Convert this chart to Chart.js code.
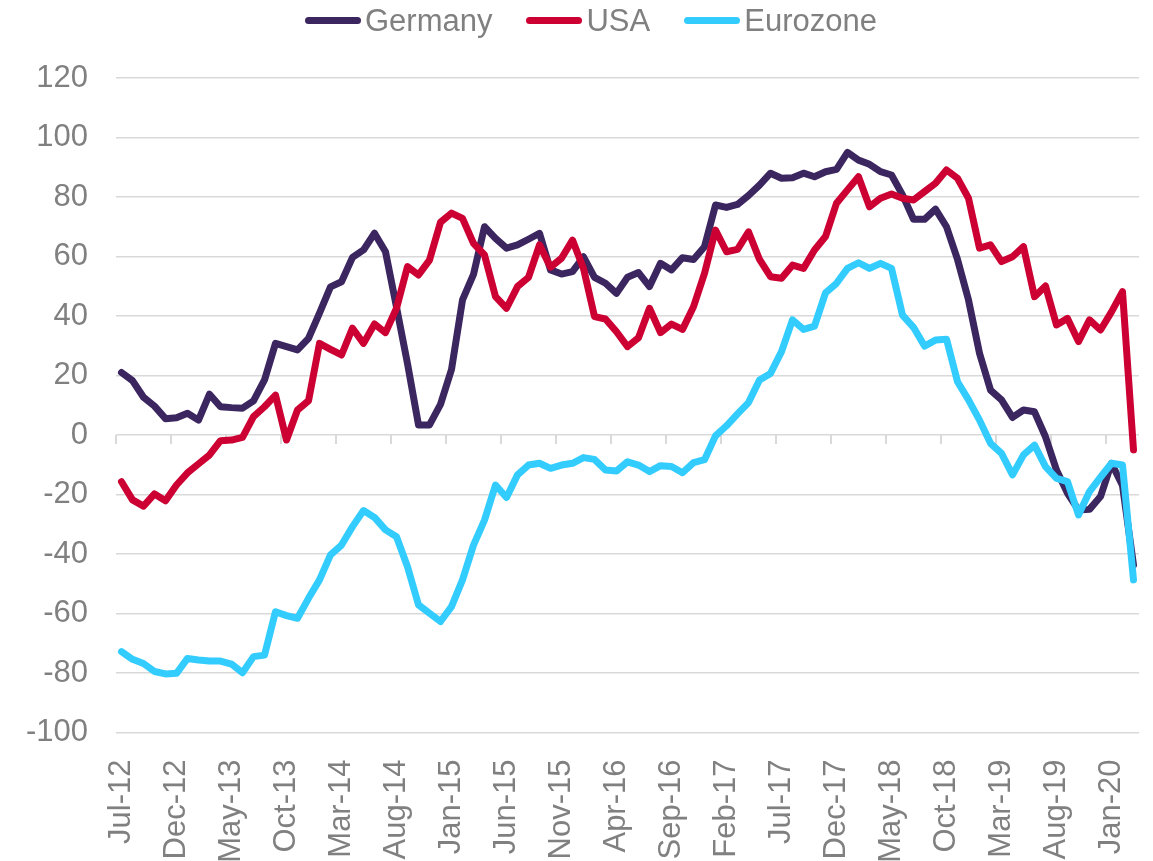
<!DOCTYPE html>
<html>
<head>
<meta charset="utf-8">
<script src="https://cdn.jsdelivr.net/npm/chart.js"></script>
<style>
  body { margin: 0; background: #ffffff; }
  #wrap { position: relative; width: 1153px; height: 861px; }
  #legenda {
    position: absolute; top: 5px; left: 305px; display: flex;
    font: 31px "Liberation Sans", Arial, sans-serif; color: #808080; line-height: 31px;
  }
  .item { display: flex; align-items: center; margin-right: 34px; }
  .swatch { width: 56px; height: 7px; border-radius: 4px; margin-right: 4px; }
</style>
</head>
<body>
<div id="wrap">
  <canvas id="grafico" width="1153" height="861"></canvas>
  <div id="legenda"></div>
</div>
<script>
// Rótulos mensais do eixo X (Jul-12 a Mar-20)
const rotulos = [
  "Jul-12", "Aug-12", "Sep-12", "Oct-12", "Nov-12", "Dec-12",
  "Jan-13", "Feb-13", "Mar-13", "Apr-13", "May-13", "Jun-13", "Jul-13", "Aug-13", "Sep-13", "Oct-13", "Nov-13", "Dec-13",
  "Jan-14", "Feb-14", "Mar-14", "Apr-14", "May-14", "Jun-14", "Jul-14", "Aug-14", "Sep-14", "Oct-14", "Nov-14", "Dec-14",
  "Jan-15", "Feb-15", "Mar-15", "Apr-15", "May-15", "Jun-15", "Jul-15", "Aug-15", "Sep-15", "Oct-15", "Nov-15", "Dec-15",
  "Jan-16", "Feb-16", "Mar-16", "Apr-16", "May-16", "Jun-16", "Jul-16", "Aug-16", "Sep-16", "Oct-16", "Nov-16", "Dec-16",
  "Jan-17", "Feb-17", "Mar-17", "Apr-17", "May-17", "Jun-17", "Jul-17", "Aug-17", "Sep-17", "Oct-17", "Nov-17", "Dec-17",
  "Jan-18", "Feb-18", "Mar-18", "Apr-18", "May-18", "Jun-18", "Jul-18", "Aug-18", "Sep-18", "Oct-18", "Nov-18", "Dec-18",
  "Jan-19", "Feb-19", "Mar-19", "Apr-19", "May-19", "Jun-19", "Jul-19", "Aug-19", "Sep-19", "Oct-19", "Nov-19", "Dec-19",
  "Jan-20", "Feb-20", "Mar-20"
];

// Séries
const germany = [
  21, 18.3, 12.7, 9.7, 5.5, 5.8, 7.3, 5.0, 13.7, 9.5, 9.2, 9.0, 11.5, 18.5, 30.8, 29.7, 28.6, 32.5,
  41, 49.8, 51.5, 59.7, 62.2, 67.8, 61.6, 43, 24, 3.4, 3.4, 10.3, 22, 45.4, 54, 70, 66.1, 62.8,
  63.9, 65.8, 67.8, 55.5, 54.1, 54.9, 59.9, 53, 51, 47.6, 53, 54.6, 49.9, 57.7, 55.5, 59.6, 59, 63.3,
  77.3, 76.5, 77.5, 80.5, 84, 88, 86.3, 86.5, 88, 86.8, 88.5, 89.3, 95, 92.4, 91, 88.5, 87.4, 80.7,
  72.5, 72.5, 75.9, 70, 59, 45.4, 27.5, 15.1, 11.8, 5.9, 8.4, 7.8, -0.6, -11.8, -19.6, -25.2, -25, -20.7,
  -9.5, -17, -43.7
];
const usa = [
  -15.7, -21.8, -23.9, -19.8, -22.1, -16.8, -12.7, -9.7, -6.7, -1.9, -1.7, -0.8, 6.2, 9.5, 13.4, -1.7, 8.4, 11.5,
  30.8, 28.8, 26.9, 35.9, 30.8, 37.3, 34.4, 42.6, 56.6, 53.8, 58.8, 71.5, 74.6, 72.8, 64.4, 60.5, 46.5, 42.6,
  49.9, 53, 63.9, 56.4, 59.4, 65.5, 56, 39.8, 39, 34.7, 29.7, 32.7, 42.6, 34.4, 37.3, 35.5, 43.1, 54.3,
  68.9, 61.6, 62.4, 68.3, 59, 53.2, 52.7, 57.1, 56, 62.2, 66.7, 77.9, 82.4, 86.8, 76.7, 79.6, 81, 79.6,
  79, 81.8, 84.6, 89.1, 86.3, 79.6, 62.8, 63.9, 58.3, 59.9, 63.3, 46.5, 50.1, 37, 39.2, 31.4, 38.7, 35.3,
  41.4, 48.2, -5
];
const eurozone = [
  -72.8, -75.4, -76.8, -79.5, -80.3, -80.1, -75.1, -75.6, -76, -76, -77, -79.9, -74.5, -74, -59.4, -60.7, -61.6, -54.9,
  -48.7, -40.3, -37, -30.8, -25.4, -27.7, -31.9, -34.2, -44.3, -57.1, -59.9, -62.7, -57.7, -48.7, -37, -28.6, -16.8, -21,
  -13.4, -10.1, -9.5, -11.2, -10.1, -9.5, -7.6, -8.2, -11.8, -12.1, -9, -10.1, -12.3, -10.3, -10.6, -12.7, -9.3, -8.3,
  -0.3, 3.1, 7.1, 10.9, 18.5, 20.7, 28, 38.7, 35.5, 36.6, 47.8, 51, 56, 57.9, 56, 57.7, 56, 40.3,
  36.2, 29.9, 31.9, 32.2, 17.9, 11.8, 5, -2.8, -6.2, -13.4, -6.7, -3.4, -10.6, -14.6, -15.7, -26.9, -19, -14.2,
  -9.5, -10.1, -48.7
];

const nomes = ["Germany", "USA", "Eurozone"];
const cores = ["#3b2660", "#cc0033", "#33ccff"];
const valores = [germany, usa, eurozone];

// Marcas do eixo horizontal sobre a linha do zero (a cada 5 meses)
const marcasEixo = {
  id: "marcasEixo",
  beforeDatasetsDraw(chart) {
    const { ctx, scales: { x, y } } = chart;
    const passo = x.getPixelForValue(1) - x.getPixelForValue(0);
    const y0 = y.getPixelForValue(0);
    ctx.save();
    ctx.strokeStyle = "#d9d9d9";
    ctx.lineWidth = 2;
    for (let i = 0; i < rotulos.length; i += 5) {
      const xi = x.getPixelForValue(i) - passo / 2;
      ctx.beginPath();
      ctx.moveTo(xi, y0);
      ctx.lineTo(xi, y0 + 9);
      ctx.stroke();
    }
    ctx.restore();
  }
};

const fonte = { family: "'Liberation Sans', Arial, sans-serif", size: 31 };

new Chart(document.getElementById("grafico"), {
  type: "line",
  data: {
    labels: rotulos,
    datasets: valores.map((serie, k) => ({
      label: nomes[k],
      data: serie,
      borderColor: cores[k],
      backgroundColor: cores[k],
      borderWidth: 7,
      borderJoinStyle: "round",
      borderCapStyle: "round",
      pointRadius: 0,
      tension: 0,
      fill: false,
      order: 3 - k // Eurozone por cima, como no original
    }))
  },
  options: {
    responsive: false,
    animation: false,
    layout: { padding: { top: 78, right: 14, left: 0, bottom: 0 } },
    plugins: {
      legend: { display: false },
      tooltip: { enabled: false }
    },
    scales: {
      x: {
        offset: true,
        grid: { display: false },
        border: { display: false },
        ticks: {
          autoSkip: false,
          maxRotation: 90,
          minRotation: 90,
          padding: 19,
          color: "#808080",
          font: fonte,
          callback: function (value, index) {
            return index % 5 === 0 ? this.getLabelForValue(value) : null;
          }
        },
        afterFit: function (scale) {
          scale.height = 128.5;
          scale.paddingLeft = 0;
          scale.paddingRight = 0;
        }
      },
      y: {
        min: -100,
        max: 120,
        ticks: { stepSize: 20, padding: 28, color: "#808080", font: fonte },
        grid: { color: "#d9d9d9", lineWidth: 1.5, drawTicks: false },
        border: { display: false },
        afterFit: function (scale) { scale.width = 116; }
      }
    }
  },
  plugins: [marcasEixo]
});

// Legenda em HTML
const legenda = document.getElementById("legenda");
nomes.forEach((nome, k) => {
  const item = document.createElement("div");
  item.className = "item";
  const swatch = document.createElement("span");
  swatch.className = "swatch";
  swatch.style.background = cores[k];
  const texto = document.createElement("span");
  texto.textContent = nome;
  item.appendChild(swatch);
  item.appendChild(texto);
  legenda.appendChild(item);
});
</script>
</body>
</html>
